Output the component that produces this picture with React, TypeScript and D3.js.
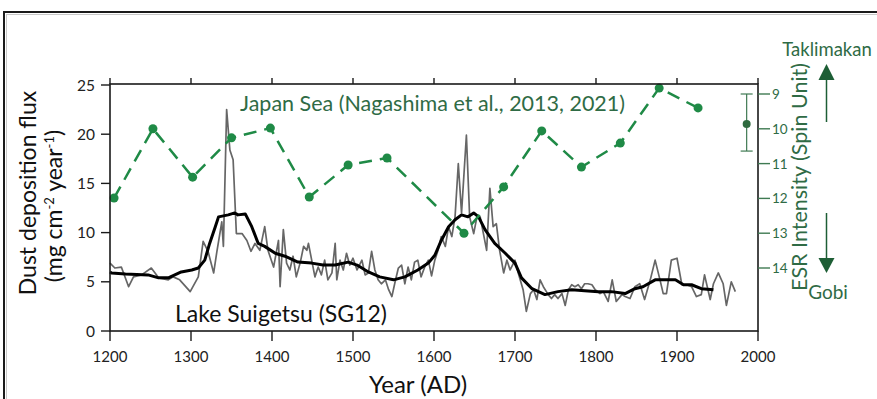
import React from "react";
import * as d3 from "d3";

// Lake Suigetsu raw dust flux (grey)
const rawYears = [1200,1206,1214,1223,1229,1239,1251,1260,1272,1278,1286,1299,1309,1315,1321,1328,1332,1338,1340,1344,1348,1352,1356,1363,1369,1374,1379,1385,1391,1395,1402,1408,1410,1414,1418,1422,1426,1430,1435,1439,1443,1445,1449,1453,1457,1461,1465,1469,1474,1478,1480,1484,1488,1492,1496,1500,1505,1511,1515,1519,1523,1527,1531,1535,1540,1544,1548,1552,1556,1560,1564,1568,1572,1576,1580,1584,1589,1593,1597,1601,1605,1609,1614,1618,1622,1626,1630,1634,1640,1644,1649,1653,1657,1661,1665,1669,1673,1677,1681,1686,1690,1694,1700,1704,1710,1714,1719,1723,1727,1731,1735,1741,1745,1749,1753,1758,1762,1766,1770,1774,1778,1782,1786,1790,1795,1799,1805,1809,1815,1820,1825,1832,1836,1842,1848,1854,1860,1867,1873,1879,1883,1887,1893,1900,1906,1912,1918,1924,1930,1934,1941,1945,1951,1957,1961,1967,1972];
const rawFlux = [6.9,6.4,6.5,4.5,5.5,5.7,6.4,5.4,5.2,5.5,5.2,4.0,5.5,9.1,8.1,5.9,8.1,11.1,8.6,22.5,18.4,17.4,9.9,9.9,9.2,8.1,8.9,8.2,10.6,8.2,6.5,9.2,4.5,10.3,6.9,6.2,7.6,5.5,7.0,8.6,8.2,8.9,7.2,5.5,6.5,5.7,7.2,5.2,5.9,8.9,5.2,7.2,6.2,7.9,6.7,7.4,6.2,7.2,5.7,5.9,8.1,6.2,5.2,4.8,5.2,4.2,3.5,5.0,6.4,6.7,4.8,6.5,5.2,7.0,7.2,5.5,6.6,7.2,5.6,7.2,8.2,9.6,8.6,10.6,9.6,11.6,17.0,12.0,19.9,11.6,9.9,11.6,11.6,9.9,8.2,14.5,10.6,10.9,8.2,5.9,7.2,6.2,7.2,5.9,4.2,2.0,3.8,4.2,3.2,5.2,4.5,3.7,3.3,3.7,3.3,3.8,2.6,4.2,4.7,4.5,4.7,4.3,4.8,4.8,4.7,4.2,3.8,4.0,3.0,5.2,3.0,3.7,3.5,3.3,4.5,4.8,3.2,5.2,7.2,5.2,3.8,3.8,7.2,7.4,4.7,4.7,4.5,3.5,3.7,5.7,3.2,4.8,5.9,4.8,2.6,5.0,4.0];

// Smoothed flux (black)
const smoothYears = [1200,1202,1219,1247,1260,1272,1288,1301,1309,1317,1323,1330,1334,1346,1354,1358,1367,1375,1383,1391,1404,1416,1432,1449,1463,1478,1494,1505,1519,1533,1550,1564,1580,1593,1601,1609,1618,1626,1634,1642,1649,1655,1663,1675,1688,1700,1708,1721,1737,1753,1770,1786,1803,1819,1836,1848,1858,1873,1885,1898,1908,1918,1930,1945];
const smoothFlux = [6.0,5.9,5.8,5.7,5.4,5.4,6.0,6.2,6.4,7.2,8.9,10.6,11.6,11.8,12.0,11.8,11.9,10.6,8.9,8.6,7.9,7.6,7.0,6.9,6.7,6.7,7.0,6.7,6.0,5.5,5.2,5.5,6.2,6.9,7.7,9.2,10.6,11.3,11.8,11.6,12.0,11.6,10.3,8.9,7.9,6.9,5.4,4.3,3.7,4.0,4.2,4.1,4.0,4.0,3.8,4.3,4.5,5.2,5.2,5.2,4.7,4.7,4.3,4.2];

// Japan Sea ESR intensity (green)
const esrYears = [1205,1253,1302,1350,1398,1446,1494,1542,1637,1686,1733,1782,1830,1878,1926];
const esrValues = [11.99,10.0,11.39,10.26,9.98,11.96,11.04,10.84,13.0,11.67,10.06,11.1,10.41,8.83,9.4];

// Modern reference point with error bar
const modernYear = [1986];
const modernValue = [9.86];
const modernLow = [9.0];
const modernHigh = [10.64];

const xTicks = [1200,1300,1400,1500,1600,1700,1800,1900,2000];
const yLeftTicks = [0,5,10,15,20,25];
const yRightTicks = [9,10,11,12,13,14];

const FONT = "Lato, 'Open Sans', sans-serif";
const GREEN = "#1f8a46";
const DARKGREEN = "#2f6b45";

export default function App() {
  const x = d3.scaleLinear().domain([1200, 2000]).range([110, 758]);
  const yL = d3.scaleLinear().domain([0, 25]).range([331, 85]);
  const yR = d3.scaleLinear().domain([9, 14]).range([94, 268]);

  const left = 110, right = 758, top = 84, bottom = 331;

  const rawLine = d3.line<number>().x((d, i) => x(rawYears[i])).y((d) => yL(d))(rawFlux) || "";
  const smoothLine = d3.line<number>().x((d, i) => x(smoothYears[i])).y((d) => yL(d))(smoothFlux) || "";
  const esrLine = d3.line<number>().x((d, i) => x(esrYears[i])).y((d) => yR(d))(esrValues) || "";

  return (
    <svg width={877} height={399} style={{ position: "absolute", left: 0, top: 0, background: "#fff" }} fontFamily={FONT}>
      <rect x={0} y={0} width={877} height={399} fill="#fff" />
      {/* outer frame */}
      <rect x={4} y={12} width={900} height={420} fill="none" stroke="#1a1a1a" strokeWidth={2} />
      <path d={`M6,14.5H877M6.5,14V399`} stroke="#c8c8c8" strokeWidth={1} fill="none" />

      {/* grey raw */}
      <path d={rawLine} fill="none" stroke="#666" strokeWidth={1.7} strokeLinejoin="round" />
      {/* black smooth */}
      <path d={smoothLine} fill="none" stroke="#000" strokeWidth={3} strokeLinejoin="round" />

      {/* ESR dashed */}
      <path d={esrLine} fill="none" stroke={GREEN} strokeWidth={2.5} strokeDasharray="13,8" />
      {esrValues.map((v, i) => (
        <circle key={i} cx={x(esrYears[i])} cy={yR(v)} r={4.5} fill={GREEN} />
      ))}

      {/* modern error bar */}
      {modernValue.map((v, i) => (
        <g key={i} stroke="#3f7a52" strokeWidth={1.2}>
          <line x1={x(modernYear[i])} x2={x(modernYear[i])} y1={yR(modernLow[i])} y2={yR(modernHigh[i])} />
          <line x1={x(modernYear[i]) - 6} x2={x(modernYear[i]) + 6} y1={yR(modernLow[i])} y2={yR(modernLow[i])} />
          <line x1={x(modernYear[i]) - 6} x2={x(modernYear[i]) + 6} y1={yR(modernHigh[i])} y2={yR(modernHigh[i])} />
          <circle cx={x(modernYear[i])} cy={yR(v)} r={4} fill="#2f6b3f" stroke="none" />
        </g>
      ))}

      {/* frame */}
      <rect x={left} y={top} width={right - left} height={bottom - top} fill="none" stroke="#1a1a1a" strokeWidth={1.6} />

      {/* bottom ticks and top ticks */}
      {xTicks.map((t) => (
        <g key={t}>
          <line x1={x(t)} x2={x(t)} y1={bottom} y2={bottom + 10} stroke="#1a1a1a" strokeWidth={1.4} />
          <line x1={x(t)} x2={x(t)} y1={top} y2={top - 6} stroke="#1a1a1a" strokeWidth={1.4} />
          <text x={x(t)} y={362} textAnchor="middle" fontSize={15} fill="#222">{t}</text>
        </g>
      ))}

      {/* left ticks */}
      {yLeftTicks.map((t) => (
        <g key={t}>
          <line x1={left - 9} x2={left} y1={yL(t)} y2={yL(t)} stroke="#1a1a1a" strokeWidth={1.4} />
          <text x={95} y={yL(t) + 5.5} textAnchor="end" fontSize={15.5} fill="#222">{t}</text>
        </g>
      ))}

      {/* right ticks */}
      {yRightTicks.map((t) => (
        <g key={t}>
          <line x1={right} x2={right + 12} y1={yR(t)} y2={yR(t)} stroke="#3f7a52" strokeWidth={1.4} />
          <text x={772} y={yR(t) + 5} textAnchor="start" fontSize={13.5} fill={DARKGREEN}>{t}</text>
        </g>
      ))}

      {/* labels */}
      <text x={240} y={111} fontSize={21.5} fill={DARKGREEN}>Japan Sea (Nagashima et al., 2013, 2021)</text>
      <text x={175} y={322} fontSize={23} fill="#111">Lake Suigetsu (SG12)</text>
      <text x={418} y={393} textAnchor="middle" fontSize={24} fill="#111">Year (AD)</text>

      <text transform="translate(36,193) rotate(-90)" textAnchor="middle" fontSize={23} fill="#111">Dust deposition flux</text>
      <text transform="translate(62,206) rotate(-90)" textAnchor="middle" fontSize={23} fill="#111">
        (mg cm<tspan dy={-8} fontSize={13}>-2</tspan><tspan dy={8}> year</tspan><tspan dy={-8} fontSize={13}>-1</tspan><tspan dy={8}>)</tspan>
      </text>

      <text transform="translate(807,177) rotate(-90)" textAnchor="middle" fontSize={21.5} fill={DARKGREEN}>ESR Intensity (Spin Unit)</text>

      <text x={827} y={56} textAnchor="middle" fontSize={18.5} fill={DARKGREEN}>Taklimakan</text>
      <text x={828} y={299} textAnchor="middle" fontSize={19} fill={DARKGREEN}>Gobi</text>

      {/* arrows */}
      <line x1={826.5} x2={826.5} y1={122} y2={78} stroke="#1d5e35" strokeWidth={1.5} />
      <path d="M818.5,80 L834.5,80 L826.5,64 Z" fill="#1d5e35" />
      <line x1={826.5} x2={826.5} y1={213} y2={260} stroke="#1d5e35" strokeWidth={1.5} />
      <path d="M818.5,258 L834.5,258 L826.5,273 Z" fill="#1d5e35" />
    </svg>
  );
}
